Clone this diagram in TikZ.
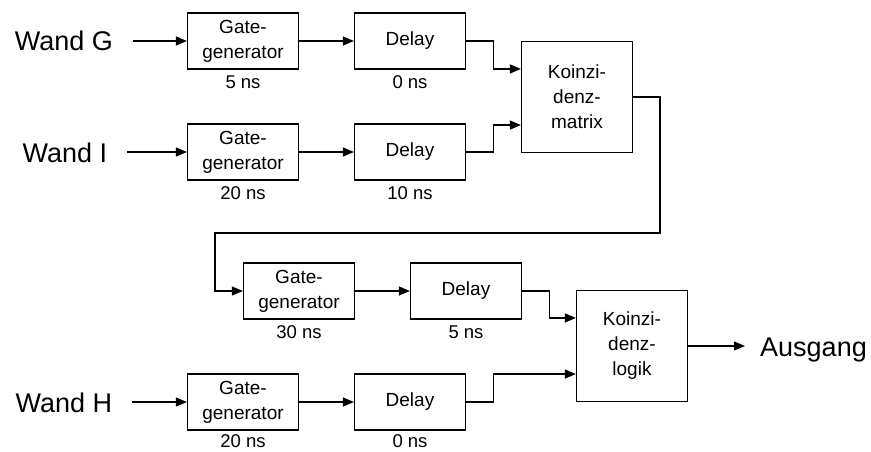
\documentclass[tikz,border=0pt]{standalone}
\usepackage{fontspec}
\setmainfont{Liberation Sans}
\usetikzlibrary{arrows.meta, positioning, calc}

\begin{document}
\begin{tikzpicture}[x=1pt, y=-1pt,
    blk/.style={draw, line width=1.2pt, minimum width=111pt, minimum height=56pt,
                align=center, font=\fontsize{19}{25}\selectfont},
    coin/.style={blk, minimum height=111pt},
    wall/.style={inner sep=0pt, text height=20pt, text depth=0pt,
                 font=\fontsize{27}{30}\selectfont},
    dly/.style={inner sep=0pt, font=\fontsize{18.5}{22}\selectfont},
    link/.style={-{Triangle[length=11pt, width=9pt]}, line width=1.2pt},
]
    \useasboundingbox (0,0) rectangle (871,452);

    % Inputs
    \node[wall] (wg) at (64,41) {Wand G};
    \node[wall] (wi) at (65,152) {Wand I};
    \node[wall] (wh) at (64,402) {Wand H};

    % First stage
    \node[blk] (g1) at (243,41) {Gate-\\generator};
    \node[blk] (d1) at (410,41) {Delay};
    \node[blk] (g2) at (243,152) {Gate-\\generator};
    \node[blk] (d2) at (410,152) {Delay};
    \node[coin] (k1) at (577,97) {Koinzi-\\denz-\\matrix};

    % Second stage
    \node[blk] (g3) at (299,291) {Gate-\\generator};
    \node[blk] (d3) at (466,291) {Delay};
    \node[blk] (g4) at (243,402) {Gate-\\generator};
    \node[blk] (d4) at (410,402) {Delay};
    \node[coin] (k2) at (632,346) {Koinzi-\\denz-\\logik};

    % Output
    \node[wall, anchor=west] (out) at (760,346) {Ausgang};

    % Feedback corners
    \coordinate (fbR) at (660,233);
    \coordinate (fbL) at (215,233);

    % Links
    \draw[link, shorten <=20pt] (wg) -- (g1);
    \draw[link, shorten <=20pt] (wi) -- (g2);
    \draw[link, shorten <=20pt] (wh) -- (g4);
    \draw[link] (g1) -- (d1);
    \draw[link] (g2) -- (d2);
    \draw[link] (g3) -- (d3);
    \draw[link] (g4) -- (d4);
    \draw[link] (d1.east) -- ++(27,0) |- ($(k1.north west)!0.25!(k1.south west)$);
    \draw[link] (d2.east) -- ++(27,0) |- ($(k1.north west)!0.75!(k1.south west)$);
    \draw[link] (k1.east) -| (fbR) -- (fbL) |- (g3.west);
    \draw[link] (d3.east) -- ++(27,0) |- ($(k2.north west)!0.25!(k2.south west)$);
    \draw[link] (d4.east) -- ++(27,0) |- ($(k2.north west)!0.75!(k2.south west)$);
    \draw[link, shorten >=15pt] (k2) -- (out);

    % Timings
    \node[dly, below=6pt of g1] (t1) {5 ns};
    \node[dly, below=6pt of d1] (t2) {0 ns};
    \node[dly, below=6pt of g2] (t3) {20 ns};
    \node[dly, below=6pt of d2] (t4) {10 ns};
    \node[dly, below=6pt of g3] (t5) {30 ns};
    \node[dly, below=6pt of d3] (t6) {5 ns};
    \node[dly, below=4pt of g4] (t7) {20 ns};
    \node[dly, below=4pt of d4] (t8) {0 ns};
\end{tikzpicture}
\end{document}
